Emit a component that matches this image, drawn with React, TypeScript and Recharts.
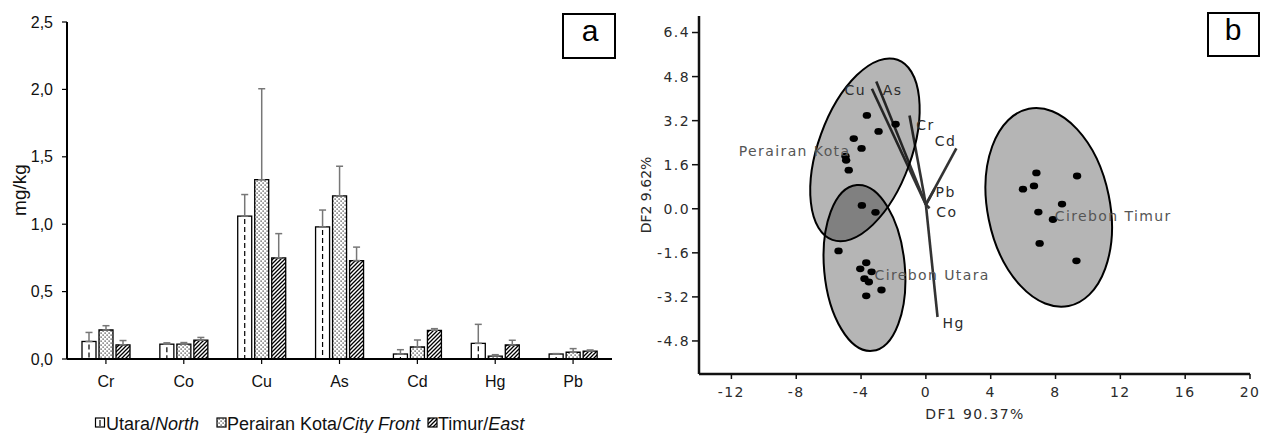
import React from "react";
import {
  BarChart,
  Bar,
  XAxis,
  YAxis,
  ErrorBar,
  ScatterChart,
  Scatter,
  ReferenceLine,
} from "recharts";

// ---- panel a: metal concentrations (mg/kg) ----
const metals = ["Cr", "Co", "Cu", "As", "Cd", "Hg", "Pb"];
const utara = [0.13, 0.11, 1.06, 0.98, 0.037, 0.116, 0.037];
const perairan = [0.215, 0.11, 1.33, 1.21, 0.089, 0.022, 0.05];
const timur = [0.105, 0.14, 0.75, 0.73, 0.213, 0.104, 0.059];
const utaraSd = [0.067, 0.01, 0.16, 0.125, 0.032, 0.141, 0.003];
const perairanSd = [0.032, 0.012, 0.675, 0.22, 0.052, 0.01, 0.027];
const timurSd = [0.032, 0.02, 0.18, 0.1, 0.012, 0.035, 0.008];
const yTicksA = [0, 0.5, 1, 1.5, 2, 2.5];

// ---- panel b: discriminant function scores ----
const perairanPts = [
  { x: -3.64, y: 3.39 },
  { x: -1.87, y: 3.07 },
  { x: -2.92, y: 2.81 },
  { x: -4.45, y: 2.55 },
  { x: -3.97, y: 2.19 },
  { x: -4.96, y: 1.91 },
  { x: -4.92, y: 1.76 },
  { x: -4.76, y: 1.4 },
  { x: -3.95, y: 0.12 },
];
const utaraPts = [
  { x: -3.11, y: -0.13 },
  { x: -5.39, y: -1.53 },
  { x: -3.68, y: -1.96 },
  { x: -4.05, y: -2.18 },
  { x: -3.35, y: -2.29 },
  { x: -3.79, y: -2.54 },
  { x: -3.52, y: -2.66 },
  { x: -2.74, y: -2.95 },
  { x: -3.68, y: -3.16 },
];
const timurPts = [
  { x: 6.82, y: 1.3 },
  { x: 9.33, y: 1.19 },
  { x: 5.99, y: 0.71 },
  { x: 6.67, y: 0.83 },
  { x: 8.4, y: 0.17 },
  { x: 6.94, y: -0.12 },
  { x: 7.84, y: -0.39 },
  { x: 7.02, y: -1.26 },
  { x: 9.29, y: -1.89 },
];
// ellipse: centre, end of one semi-axis, end of the other semi-axis
const ellipses = [
  { name: "Perairan Kota", c: { x: -3.76, y: 2.14 }, a: { x: -1.75, y: 5.41 }, b: { x: -1.05, y: 1.57 } },
  { name: "Cirebon Utara", c: { x: -3.79, y: -2.15 }, a: { x: -3.32, y: -5.16 }, b: { x: -1.31, y: -2.02 } },
  { name: "Cirebon Timur", c: { x: 7.58, y: 0.05 }, a: { x: 8.81, y: -3.53 }, b: { x: 11.28, y: 0.49 } },
];
const groupLabels = [
  { name: "Perairan Kota", x: -11.55, y: 2.09 },
  { name: "Cirebon Utara", x: -3.17, y: -2.41 },
  { name: "Cirebon Timur", x: 7.95, y: -0.25 },
];
const vectorOrigin = { x: 0, y: 0.15 };
const loadings = [
  { name: "Cu", x: -3.33, y: 4.36 },
  { name: "As", x: -3.06, y: 4.62 },
  { name: "Cr", x: -1.01, y: 3.39 },
  { name: "Cd", x: 1.88, y: 2.19 },
  { name: "Pb", x: 0.53, y: 0.71 },
  { name: "Co", x: 0.23, y: 0.02 },
  { name: "Hg", x: 0.72, y: -3.93 },
];
const loadingLabels = [
  { name: "Cu", x: -5.02, y: 4.3 },
  { name: "As", x: -2.66, y: 4.3 },
  { name: "Cr", x: -0.59, y: 3.03 },
  { name: "Cd", x: 0.55, y: 2.45 },
  { name: "Pb", x: 0.6, y: 0.61 },
  { name: "Co", x: 0.64, y: -0.13 },
  { name: "Hg", x: 1.03, y: -4.15 },
];
const xTicksB = [-12, -8, -4, 0, 4, 8, 12, 16, 20];
const yTicksB = [-4.8, -3.2, -1.6, 0, 1.6, 3.2, 4.8, 6.4];

const barData = metals.map((metal, i) => ({
  metal,
  utara: utara[i],
  perairan: perairan[i],
  timur: timur[i],
  utaraErr: [0, utaraSd[i]],
  perairanErr: [0, perairanSd[i]],
  timurErr: [0, timurSd[i]],
}));

const arial = "Liberation Sans, Arial, sans-serif";
const dejavu = "DejaVu Sans, Verdana, sans-serif";
const tickA = { fill: "#111", fontSize: 16, fontFamily: arial };
const tickB = { fill: "#2b2b2b", fontSize: 14, fontFamily: dejavu, letterSpacing: 1.4 };

const UtaraBar = (p: any) => {
  const { x, y, width, height } = p;
  if (!height || height <= 0) return <g />;
  const mid = x + width / 2;
  return (
    <g>
      <rect x={x} y={y} width={width} height={height} fill="#fff" stroke="#000" strokeWidth={1.3} />
      <line x1={mid} x2={mid} y1={y + 3} y2={y + height} stroke="#000" strokeWidth={1.2} strokeDasharray="5 3" />
    </g>
  );
};

const EllipseLine = (props: any) => {
  const pts = props.points;
  if (!pts || pts.length < 3) return <g />;
  const [c, a, b] = pts;
  return (
    <ellipse
      cx={0}
      cy={0}
      rx={1}
      ry={1}
      transform={`matrix(${a.x - c.x} ${a.y - c.y} ${b.x - c.x} ${b.y - c.y} ${c.x} ${c.y})`}
      fill="#000"
      fillOpacity={0.29}
      stroke="#000"
      strokeWidth={2}
      vectorEffect="non-scaling-stroke"
    />
  );
};

const Dot = (p: any) => <ellipse cx={p.cx} cy={p.cy} rx={4.2} ry={3.4} fill="#000" />;

const makeLabel = (color: string) => (p: any) => (
  <text
    x={p.cx}
    y={p.cy}
    dy="0.35em"
    fill={color}
    fontSize={14}
    fontFamily={dejavu}
    letterSpacing={1.4}
  >
    {p.payload.name}
  </text>
);

const Legend = () => (
  <g fontFamily={arial} fontSize={18} fill="#111">
    <rect x={95.5} y={418} width={9} height={9} fill="#fff" stroke="#000" strokeWidth={1.2} />
    <line x1={100} x2={100} y1={420} y2={426} stroke="#000" strokeWidth={1.2} />
    <text x={106} y={430}>
      Utara/<tspan fontStyle="italic">North</tspan>
    </text>
    <rect x={217} y={418} width={9} height={9} fill="url(#dots)" stroke="#000" strokeWidth={1.2} />
    <text x={227} y={430}>
      Perairan Kota/<tspan fontStyle="italic">City Front</tspan>
    </text>
    <rect x={428} y={418} width={9} height={9} fill="url(#hatch)" stroke="#000" strokeWidth={1.2} />
    <text x={438} y={430}>
      Timur/<tspan fontStyle="italic">East</tspan>
    </text>
  </g>
);

export default function App() {
  return (
    <div style={{ position: "absolute", left: 0, top: 0, width: 1268, height: 433, background: "#fff" }}>
      <div style={{ position: "absolute", left: 0, top: 0 }}>
        <BarChart
          width={620}
          height={433}
          data={barData}
          margin={{ top: 22, right: 8, left: 0, bottom: 34 }}
          barGap={3}
          barSize={14}
        >
          <XAxis
            dataKey="metal"
            height={40}
            interval={0}
            axisLine={{ stroke: "#000", strokeWidth: 2 }}
            tickLine={{ stroke: "#000", strokeWidth: 1.2 }}
            tickSize={5}
            tickMargin={12}
            tick={tickA}
          />
          <YAxis
            width={67}
            domain={[0, 2.5]}
            ticks={yTicksA}
            interval={0}
            tickFormatter={(v: number) => v.toFixed(1).replace(".", ",")}
            axisLine={{ stroke: "#000", strokeWidth: 2 }}
            tickLine={{ stroke: "#000", strokeWidth: 1.2 }}
            tickSize={5}
            tickMargin={9}
            tick={tickA}
          />
          <Bar dataKey="utara" shape={UtaraBar} isAnimationActive={false}>
            <ErrorBar dataKey="utaraErr" direction="y" width={3.5} stroke="#777" strokeWidth={1.5} />
          </Bar>
          <Bar dataKey="perairan" fill="url(#dots)" stroke="#000" strokeWidth={1.3} isAnimationActive={false}>
            <ErrorBar dataKey="perairanErr" direction="y" width={3.5} stroke="#777" strokeWidth={1.5} />
          </Bar>
          <Bar dataKey="timur" fill="url(#hatch)" stroke="#000" strokeWidth={1.3} isAnimationActive={false}>
            <ErrorBar dataKey="timurErr" direction="y" width={3.5} stroke="#777" strokeWidth={1.5} />
          </Bar>
        </BarChart>
      </div>

      <div style={{ position: "absolute", left: 620, top: 0 }}>
        <ScatterChart width={648} height={433} margin={{ top: 16, right: 18, left: 10, bottom: 14 }}>
          <XAxis
            type="number"
            dataKey="x"
            domain={[-14, 20]}
            ticks={xTicksB}
            interval={0}
            allowDataOverflow
            height={45}
            axisLine={{ stroke: "#111", strokeWidth: 2.5 }}
            tickLine={{ stroke: "#111", strokeWidth: 1.5 }}
            tickSize={5}
            tickMargin={8}
            tick={tickB}
          />
          <YAxis
            type="number"
            dataKey="y"
            domain={[-6, 7]}
            ticks={yTicksB}
            interval={0}
            allowDataOverflow
            width={69}
            tickFormatter={(v: number) => v.toFixed(1)}
            axisLine={{ stroke: "#111", strokeWidth: 2.5 }}
            tickLine={{ stroke: "#111", strokeWidth: 1.5 }}
            tickSize={7}
            tickMargin={2}
            tick={tickB}
          />
          {ellipses.map((e) => (
            <Scatter
              key={e.name}
              data={[e.c, e.a, e.b]}
              line={EllipseLine}
              shape={() => <g />}
              isAnimationActive={false}
            />
          ))}
          {loadings.map((l) => (
            <ReferenceLine
              key={l.name}
              segment={[vectorOrigin, { x: l.x, y: l.y }]}
              stroke="#333"
              strokeWidth={2.6}
            />
          ))}
          <Scatter data={perairanPts} shape={Dot} isAnimationActive={false} />
          <Scatter data={utaraPts} shape={Dot} isAnimationActive={false} />
          <Scatter data={timurPts} shape={Dot} isAnimationActive={false} />
          <Scatter data={groupLabels} shape={makeLabel("#555")} isAnimationActive={false} />
          <Scatter data={loadingLabels} shape={makeLabel("#2b2b2b")} isAnimationActive={false} />
        </ScatterChart>
      </div>

      <svg
        width={1268}
        height={433}
        style={{ position: "absolute", left: 0, top: 0, pointerEvents: "none" }}
      >
        <defs>
          <pattern id="dots" width="4" height="4" patternUnits="userSpaceOnUse">
            <rect width="4" height="4" fill="#fff" />
            <rect x="0.5" y="0.5" width="1.2" height="1.2" fill="#222" />
            <rect x="2.5" y="2.5" width="1.2" height="1.2" fill="#222" />
          </pattern>
          <pattern id="hatch" width="4" height="4" patternUnits="userSpaceOnUse">
            <rect width="4" height="4" fill="#fff" />
            <path d="M-1,1 l2,-2 M0,4 l4,-4 M3,5 l2,-2" stroke="#000" strokeWidth="1.3" />
          </pattern>
        </defs>

        <rect x={563} y={14} width={52} height={44} fill="#fff" stroke="#000" strokeWidth={2} />
        <text x={590} y={41} textAnchor="middle" fontFamily={arial} fontSize={30} fill="#000">
          a
        </text>
        <rect x={1208} y={13} width={51} height={43} fill="#fff" stroke="#000" strokeWidth={2} />
        <text x={1233} y={39.5} textAnchor="middle" fontFamily={arial} fontSize={30} fill="#000">
          b
        </text>

        <text
          transform="translate(25.6,190) rotate(-90)"
          textAnchor="middle"
          fontFamily={arial}
          fontSize={19}
          fill="#111"
        >
          mg/kg
        </text>
        <text
          transform="translate(651,195) rotate(-90)"
          textAnchor="middle"
          fontFamily={dejavu}
          fontSize={14}
          fill="#2b2b2b"
        >
          DF2 9.62%
        </text>
        <text
          x={975}
          y={419}
          textAnchor="middle"
          fontFamily={dejavu}
          fontSize={14}
          letterSpacing={1.4}
          fill="#2b2b2b"
        >
          DF1 90.37%
        </text>

        <Legend />
      </svg>
    </div>
  );
}
